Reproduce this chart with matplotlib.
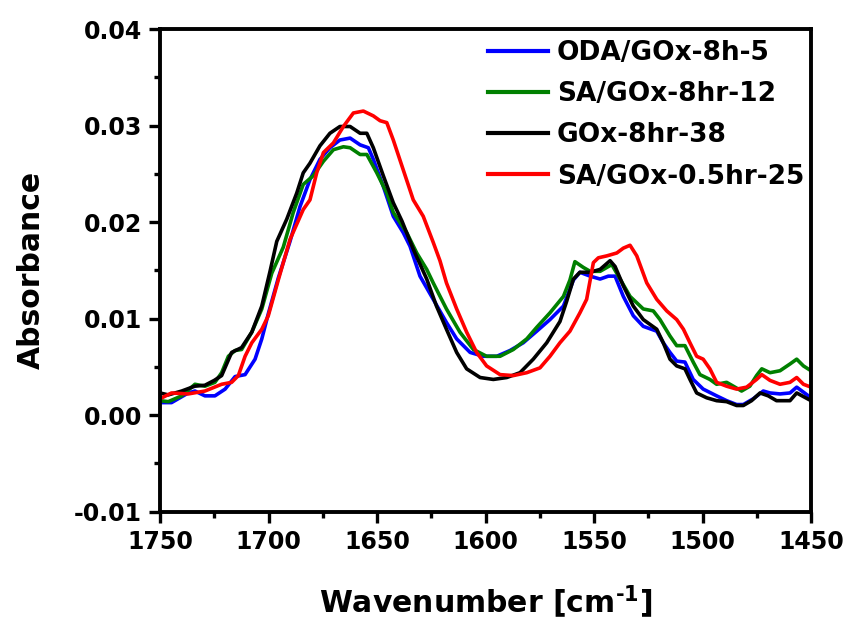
import numpy as np
import matplotlib
matplotlib.use("Agg")
import matplotlib.pyplot as plt

plt.rcParams['font.family'] = ['DejaVu Sans']
plt.rcParams['font.weight'] = 'bold'
plt.rcParams['mathtext.fontset'] = 'custom'
plt.rcParams['mathtext.rm'] = 'DejaVu Sans:bold'
plt.rcParams['mathtext.bf'] = 'DejaVu Sans:bold'
plt.rcParams['mathtext.default'] = 'bf'

# ODA/GOx-8h-5
wn_oda = [1750, 1744.7, 1737, 1733.9, 1729.3, 1724.7, 1720, 1715.4, 1710.8, 1706.2, 1703.1, 1700.1,
          1695.5, 1690.1, 1685.5, 1680.9, 1676.3, 1671.7, 1667.1, 1662.4, 1657.8, 1654, 1651.7,
          1647.1, 1642.5, 1637.9, 1634.8, 1630.2, 1624.1, 1618, 1613.3, 1607.1, 1601, 1594.8,
          1588.7, 1582.6, 1576.4, 1570.3, 1564.1, 1559.5, 1556.5, 1551.8, 1547.2, 1543.4, 1540.3,
          1536.5, 1531.9, 1527.3, 1521.1, 1518.1, 1515, 1511.9, 1508.1, 1504.3, 1499.7, 1493.5,
          1488.9, 1484.3, 1481.2, 1476.6, 1472, 1468.9, 1464.3, 1459.7, 1456.6, 1450]
ab_oda = [0.0013, 0.0013, 0.0023, 0.0025, 0.0020, 0.0020, 0.0027, 0.0040, 0.0042, 0.0058, 0.0079, 0.0105,
          0.0142, 0.0180, 0.0216, 0.0244, 0.0265, 0.0277, 0.0285, 0.0287, 0.0280, 0.0277, 0.0265,
          0.0237, 0.0206, 0.0189, 0.0175, 0.0144, 0.0120, 0.0096, 0.0079, 0.0065, 0.0061, 0.0061,
          0.0067, 0.0075, 0.0087, 0.0099, 0.0113, 0.0140, 0.0148, 0.0144, 0.0141, 0.0144, 0.0144,
          0.0123, 0.0103, 0.0092, 0.0087, 0.0075, 0.0065, 0.0056, 0.0055, 0.0037, 0.0027, 0.0020,
          0.0015, 0.0011, 0.0011, 0.0017, 0.0025, 0.0023, 0.0022, 0.0023, 0.0029, 0.0018]

# SA/GOx-8hr-12
wn_sa8 = [1750, 1746.2, 1740, 1733.9, 1729.3, 1724.7, 1721.6, 1718.5, 1715.4, 1712.4, 1707.7, 1703.1,
          1698.5, 1693.2, 1688.6, 1684, 1679.4, 1674.7, 1670.1, 1665.5, 1662.4, 1657.8, 1654.7,
          1650.1, 1645.5, 1642.5, 1636.3, 1631.7, 1627.1, 1624.1, 1618, 1611.8, 1605.6, 1599.5,
          1593.3, 1587.2, 1581, 1576.4, 1570.3, 1564.1, 1561.1, 1558.8, 1554.9, 1551.8, 1547.2,
          1541.8, 1538, 1533.4, 1527.3, 1522.7, 1519.6, 1515, 1511.9, 1508.1, 1504.3, 1501.2,
          1496.6, 1493.5, 1488.9, 1485.8, 1482, 1478.2, 1475.1, 1472.7, 1468.9, 1464.3, 1459.7,
          1456.6, 1453.5, 1450]
ab_sa8 = [0.0015, 0.0014, 0.0020, 0.0032, 0.0030, 0.0034, 0.0044, 0.0061, 0.0067, 0.0068, 0.0086, 0.0110,
          0.0147, 0.0174, 0.0210, 0.0239, 0.0248, 0.0263, 0.0275, 0.0278, 0.0277, 0.0270, 0.0270,
          0.0251, 0.0230, 0.0210, 0.0189, 0.0168, 0.0151, 0.0137, 0.0110, 0.0086, 0.0068, 0.0061,
          0.0061, 0.0068, 0.0079, 0.0091, 0.0106, 0.0123, 0.0140, 0.0159, 0.0153, 0.0149, 0.0149,
          0.0156, 0.0141, 0.0123, 0.0110, 0.0108, 0.0099, 0.0082, 0.0072, 0.0072, 0.0055, 0.0042,
          0.0037, 0.0032, 0.0034, 0.0030, 0.0025, 0.0030, 0.0041, 0.0048, 0.0044, 0.0046, 0.0053,
          0.0058, 0.0051, 0.0046]

# GOx-8hr-38
wn_gox = [1750, 1746.2, 1740, 1734, 1729.3, 1725, 1721.6, 1717, 1712.4, 1707.7, 1703.1, 1699.3,
          1696.2, 1691.6, 1687, 1684, 1680.9, 1676.3, 1671.7, 1667.1, 1662.4, 1657.8, 1654.7,
          1651.7, 1647.1, 1642.5, 1638.5, 1633.3, 1627.1, 1622.6, 1618, 1613.3, 1608.7, 1602.5,
          1596.4, 1590.2, 1584.1, 1578, 1571.8, 1565.7, 1562.6, 1559.5, 1556.5, 1551.8, 1547.2,
          1542.6, 1540.3, 1536.5, 1531.9, 1527.3, 1521.1, 1518.1, 1515, 1511.9, 1508.1, 1505.8,
          1502.7, 1498.1, 1493.5, 1488.9, 1484.3, 1481.2, 1477.4, 1473.5, 1469.7, 1465.9, 1459.7,
          1456.6, 1450]
ab_gox = [0.0023, 0.0021, 0.0025, 0.0030, 0.0031, 0.0036, 0.0041, 0.0065, 0.0070, 0.0086, 0.0113, 0.0149,
          0.0180, 0.0203, 0.0230, 0.0251, 0.0261, 0.0279, 0.0292, 0.0299, 0.0299, 0.0292, 0.0292,
          0.0277, 0.0248, 0.0220, 0.0201, 0.0172, 0.0141, 0.0113, 0.0089, 0.0065, 0.0048, 0.0039,
          0.0037, 0.0039, 0.0044, 0.0058, 0.0075, 0.0097, 0.0118, 0.0141, 0.0148, 0.0148, 0.0151,
          0.0160, 0.0154, 0.0134, 0.0113, 0.0099, 0.0089, 0.0075, 0.0058, 0.0051, 0.0048, 0.0037,
          0.0023, 0.0018, 0.0015, 0.0014, 0.0010, 0.0010, 0.0015, 0.0023, 0.0020, 0.0015, 0.0015,
          0.0023, 0.0015]

# SA/GOx-0.5hr-25
wn_sa05 = [1750, 1744.7, 1737, 1729.3, 1721.6, 1717, 1713.9, 1710.8, 1707.7, 1703.1, 1700.1, 1695.5,
           1690.1, 1684, 1680.9, 1677.8, 1674.7, 1670.1, 1665.5, 1660.9, 1656.3, 1651.7, 1648.6,
           1645.5, 1642.5, 1637.9, 1633.3, 1628.7, 1624.1, 1621, 1618, 1613.3, 1608.7, 1604.1,
           1599.5, 1593.3, 1587.2, 1581, 1574.9, 1570.3, 1565.7, 1561.1, 1556.5, 1553.4, 1550.3,
           1548, 1544.1, 1539.5, 1536.5, 1533.4, 1530.3, 1525.7, 1521.1, 1516.5, 1511.9, 1508.8,
           1505.8, 1502.7, 1499.7, 1496.6, 1493.5, 1488.9, 1484.3, 1479.7, 1475.1, 1472.7, 1468.9,
           1464.3, 1459.7, 1456.6, 1453.5, 1450]
ab_sa05 = [0.0017, 0.0023, 0.0022, 0.0025, 0.0032, 0.0034, 0.0041, 0.0061, 0.0075, 0.0089, 0.0103, 0.0140,
           0.0182, 0.0213, 0.0223, 0.0251, 0.0272, 0.0282, 0.0299, 0.0313, 0.0315, 0.0310, 0.0305,
           0.0303, 0.0285, 0.0254, 0.0223, 0.0206, 0.0179, 0.0160, 0.0137, 0.0110, 0.0086, 0.0065,
           0.0051, 0.0042, 0.0041, 0.0044, 0.0049, 0.0061, 0.0075, 0.0087, 0.0106, 0.0120, 0.0158,
           0.0163, 0.0165, 0.0168, 0.0173, 0.0176, 0.0165, 0.0137, 0.0120, 0.0108, 0.0099, 0.0089,
           0.0075, 0.0061, 0.0058, 0.0048, 0.0034, 0.0030, 0.0027, 0.0029, 0.0037, 0.0042, 0.0036,
           0.0032, 0.0034, 0.0039, 0.0032, 0.0029]

series = [
    (wn_oda, ab_oda, "ODA/GOx-8h-5", "#0000FF"),
    (wn_sa8, ab_sa8, "SA/GOx-8hr-12", "#008000"),
    (wn_gox, ab_gox, "GOx-8hr-38", "#000000"),
    (wn_sa05, ab_sa05, "SA/GOx-0.5hr-25", "#FF0000"),
]

fig = plt.figure(figsize=(8.48, 6.21), dpi=100)
ax = fig.add_axes([0.1887, 0.176, 0.7677, 0.7773])

for wn, ab, lab, col in series:
    ax.plot(wn, ab, color=col, linewidth=2.6, label=lab, solid_joinstyle='round')

ax.set_xlim(1750, 1450)
ax.set_ylim(-0.01, 0.04)
ax.set_xticks([1750, 1700, 1650, 1600, 1550, 1500, 1450])
ax.set_xticks(np.arange(1725, 1450, -50), minor=True)
ax.set_yticks([-0.01, 0.0, 0.01, 0.02, 0.03, 0.04])
ax.set_yticklabels(["-0.01", "0.00", "0.01", "0.02", "0.03", "0.04"])
ax.set_yticks(np.arange(-0.005, 0.04, 0.01), minor=True)

for s in ax.spines.values():
    s.set_linewidth(2.8)

ax.tick_params(which='major', direction='out', length=8, width=2.4, labelsize=17, pad=5)
ax.tick_params(which='minor', direction='out', length=4, width=2.4)
ax.tick_params(top=False, right=False)

for t in ax.get_xticklabels() + ax.get_yticklabels():
    t.set_fontweight('bold')

ax.set_xlabel(r"Wavenumber [cm$^{\text{-1}}$]", fontsize=21.5, fontweight='bold', labelpad=22)
ax.set_ylabel("Absorbance", fontsize=21.5, fontweight='bold', labelpad=20)

leg = ax.legend(loc='upper right', frameon=False, fontsize=19, handlelength=2.27,
                handletextpad=0.34, labelspacing=0.58, borderaxespad=0.1,
                bbox_to_anchor=(1.01, 1.005))
for line in leg.get_lines():
    line.set_linewidth(3)

fig.savefig("out.png", dpi=100, facecolor='white')
